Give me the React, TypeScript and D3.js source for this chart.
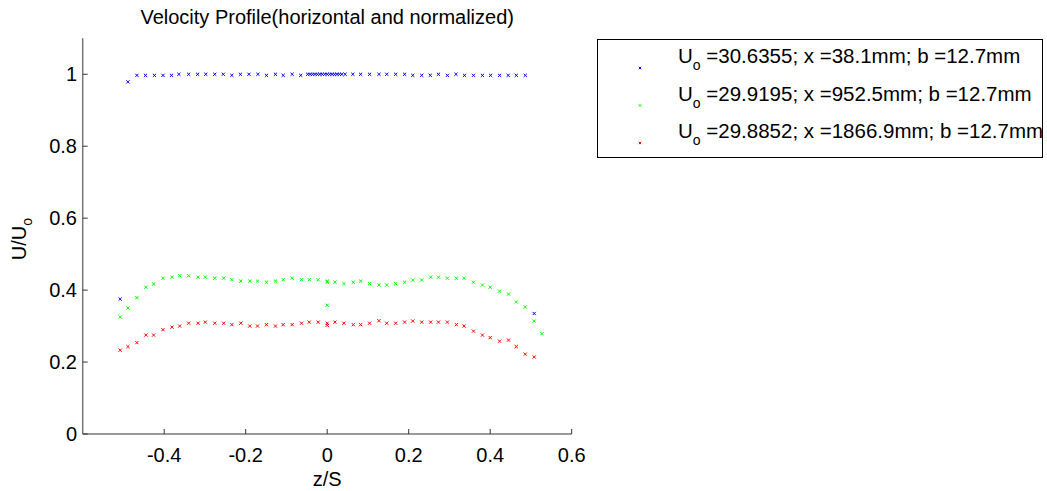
import React from "react";
import * as d3 from "d3";

// z/S positions and U/Uo values
const zBlue = [
  -0.508, -0.489, -0.467, -0.446, -0.424, -0.403, -0.382, -0.364, -0.34, -0.318, -0.298, -0.276,
  -0.255, -0.234, -0.213, -0.192, -0.17, -0.149, -0.127, -0.108, -0.086, -0.065,
  -0.048, -0.042, -0.036, -0.03, -0.024, -0.018, -0.012, -0.006, 0, 0.006, 0.012, 0.018, 0.024,
  0.03, 0.036, 0.044,
  0.063, 0.082, 0.104, 0.127, 0.146, 0.168, 0.19, 0.21, 0.232, 0.253, 0.273, 0.295, 0.316,
  0.337, 0.359, 0.381, 0.401, 0.423, 0.444, 0.464, 0.486, 0.508,
];
const uBlue = [
  0.375, 0.979, 0.997, 0.997, 0.997, 0.997, 0.997, 1.0, 1.0, 1.0, 1.0, 1.0, 1.0, 0.997, 1.0, 1.0,
  1.0, 0.997, 1.0, 0.997, 1.0, 0.997,
  1.0, 1.0, 1.0, 1.0, 1.0, 1.0, 1.0, 1.0, 1.0, 1.0, 1.0, 1.0, 1.0, 1.0, 1.0, 1.0,
  1.0, 1.0, 1.0, 1.0, 1.0, 1.0, 1.0, 0.997, 0.997, 0.997, 1.0, 0.997, 1.0, 0.997, 0.997, 0.997,
  0.997, 0.997, 0.997, 0.997, 0.997, 0.335,
];

const zGreen = [
  -0.508, -0.489, -0.467, -0.445, -0.426, -0.403, -0.381, -0.362, -0.34, -0.317, -0.299, -0.276,
  -0.254, -0.234, -0.212, -0.19, -0.171, -0.149, -0.127, -0.108, -0.086, -0.063, -0.044, -0.022,
  0, 0, 0, 0.019, 0.041, 0.064, 0.082, 0.104, 0.127, 0.146, 0.168, 0.19, 0.21, 0.232, 0.254,
  0.273, 0.295, 0.317, 0.336, 0.359, 0.381, 0.4, 0.423, 0.445, 0.464, 0.486, 0.508, 0.527,
];
const uGreen = [
  0.325, 0.35, 0.379, 0.408, 0.417, 0.433, 0.436, 0.44, 0.44, 0.436, 0.436, 0.433, 0.433, 0.429,
  0.425, 0.425, 0.425, 0.422, 0.425, 0.429, 0.433, 0.429, 0.429, 0.429, 0.425, 0.422, 0.358,
  0.422, 0.418, 0.422, 0.425, 0.418, 0.414, 0.414, 0.418, 0.422, 0.428, 0.428, 0.436, 0.436,
  0.433, 0.433, 0.433, 0.422, 0.414, 0.408, 0.397, 0.389, 0.367, 0.353, 0.314, 0.279,
];

const zRed = [
  -0.508, -0.489, -0.467, -0.445, -0.426, -0.403, -0.381, -0.362, -0.34, -0.317, -0.299, -0.276,
  -0.254, -0.234, -0.212, -0.19, -0.171, -0.149, -0.127, -0.108, -0.086, -0.063, -0.044, -0.022,
  0, 0, 0.019, 0.041, 0.064, 0.082, 0.104, 0.127, 0.146, 0.168, 0.19, 0.21, 0.232, 0.254, 0.273,
  0.295, 0.317, 0.336, 0.359, 0.381, 0.4, 0.423, 0.445, 0.464, 0.486, 0.508,
];
const uRed = [
  0.233, 0.243, 0.254, 0.275, 0.275, 0.29, 0.297, 0.3, 0.308, 0.308, 0.311, 0.308, 0.308, 0.304,
  0.308, 0.3, 0.3, 0.304, 0.3, 0.304, 0.304, 0.308, 0.311, 0.311, 0.308, 0.302, 0.311, 0.308,
  0.304, 0.304, 0.308, 0.315, 0.308, 0.308, 0.311, 0.314, 0.311, 0.311, 0.311, 0.311, 0.304,
  0.3, 0.286, 0.275, 0.268, 0.258, 0.261, 0.243, 0.222, 0.214,
];

const seriesColors = ["#0000ff", "#00ff00", "#ff0000"];
const legendLabels = [
  " =30.6355; x =38.1mm; b =12.7mm",
  " =29.9195; x =952.5mm; b =12.7mm",
  " =29.8852; x =1866.9mm; b =12.7mm",
];
const xTicks = [-0.4, -0.2, 0, 0.2, 0.4, 0.6];
const yTicks = [0, 0.2, 0.4, 0.6, 0.8, 1];

const W = 1047;
const H = 491;
const font = "'Liberation Sans', Arial, sans-serif";
const axisColor = "#777";

function Cross({ x, y, r, color }: { x: number; y: number; r: number; color: string }) {
  return (
    <path
      d={`M${x - r},${y - r}L${x + r},${y + r}M${x - r},${y + r}L${x + r},${y - r}`}
      stroke={color}
      strokeWidth={1}
      fill="none"
    />
  );
}

export default function App() {
  const x = d3.scaleLinear().domain([-0.6, 0.6]).range([82.7, 571.7]);
  const y = d3.scaleLinear().domain([0, 1.1]).range([434, 38.3]);

  const series = [
    { z: zBlue, u: uBlue },
    { z: zGreen, u: uGreen },
    { z: zRed, u: uRed },
  ];

  const [x0, x1] = x.range();
  const [y0, y1] = y.range();

  return (
    <div style={{ position: "absolute", left: 0, top: 0 }}>
      <svg width={W} height={H} style={{ display: "block", background: "#fff" }} fontFamily={font}>
        {/* title */}
        <text x={(x0 + x1) / 2} y={24} textAnchor="middle" fontSize={20} fill="#000">
          Velocity Profile(horizontal and normalized)
        </text>

        {/* axes */}
        <line x1={x0} x2={x1} y1={y0} y2={y0} stroke={axisColor} strokeWidth={1.5} />
        <line x1={x0} x2={x0} y1={y0} y2={y1} stroke={axisColor} strokeWidth={1.5} />

        {xTicks.map((t) => (
          <g key={"x" + t}>
            <line x1={x(t)} x2={x(t)} y1={y0} y2={y0 - 5} stroke="#333" strokeWidth={1} />
            <text x={x(t)} y={462} textAnchor="middle" fontSize={20} fill="#000">
              {t === 0 ? "0" : d3.format(".1f")(t).replace("−", "-")}
            </text>
          </g>
        ))}
        {yTicks.map((t) => (
          <g key={"y" + t}>
            <line x1={x0} x2={x0 + 5} y1={y(t)} y2={y(t)} stroke="#333" strokeWidth={1} />
            <text x={77} y={y(t) + 7} textAnchor="end" fontSize={20} fill="#000">
              {t === 0 || t === 1 ? String(t) : d3.format(".1f")(t)}
            </text>
          </g>
        ))}

        {/* axis labels */}
        <text x={(x0 + x1) / 2} y={486} textAnchor="middle" fontSize={20} fill="#000">
          z/S
        </text>
        <text
          transform={`translate(26,${(y0 + y1) / 2 + 24}) rotate(-90)`}
          textAnchor="start"
          fontSize={20}
          fill="#000"
        >
          <tspan>U/U</tspan>
          <tspan fontSize={14} dy={6}>o</tspan>
        </text>

        {/* data markers */}
        {series.map((s, si) =>
          s.z.map((zv, i) => (
            <Cross key={si + "-" + i} x={x(zv)} y={y(s.u[i])} r={1.6} color={seriesColors[si]} />
          ))
        )}

        {/* legend */}
        <rect x={597.5} y={39.5} width={445} height={118} fill="#fff" stroke="#000" strokeWidth={1} />
        {legendLabels.map((lab, i) => {
          const ty = 63 + i * 37.5;
          return (
            <g key={"lg" + i}>
              <Cross x={640} y={ty + 5} r={1.2} color={seriesColors[i]} />
              <text x={678} y={ty} fontSize={20.5} fill="#000">
                <tspan>U</tspan>
                <tspan fontSize={14} dy={7}>o</tspan>
                <tspan dy={-7}>{lab}</tspan>
              </text>
            </g>
          );
        })}
      </svg>
    </div>
  );
}
